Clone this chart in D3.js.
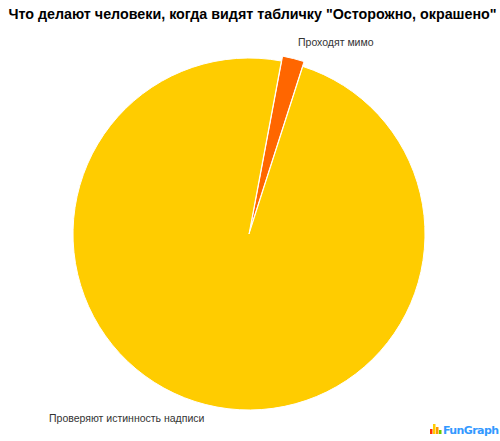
<!DOCTYPE html>
<html>
<head>
<meta charset="utf-8">
<script src="https://cdn.jsdelivr.net/npm/d3@7"></script>
<style>
  body { margin: 0; background: #fff; }
  svg { display: block; }
</style>
</head>
<body>
<script>
// chart data
const title = 'Что делают человеки, когда видят табличку "Осторожно, окрашено"';
const categories = ['Проходят мимо', 'Проверяют истинность надписи'];
const values = [2, 98];
const colors = ['#ff6600', '#ffcc00'];
const exploded = [true, false];

const width = 500, height = 441;
const cx = 249, cy = 234, radius = 176;
const startAngle = 10.6 * Math.PI / 180;

const svg = d3.select('body').append('svg')
  .attr('width', width)
  .attr('height', height);

svg.append('text')
  .attr('x', 252.5)
  .attr('y', 19)
  .attr('text-anchor', 'middle')
  .style('font-family', '"Liberation Sans", Arial, sans-serif')
  .style('font-weight', 'bold')
  .style('font-size', '14.3px')
  .attr('fill', '#000')
  .text(title);

let pie = d3.pie()
  .sort(null)
  .startAngle(startAngle)
  .endAngle(startAngle + 2 * Math.PI)
  .value((d) => d);
let arcs = pie(values);
let arc = d3.arc().innerRadius(0).outerRadius(radius);

let g = svg.append('g').attr('transform', 'translate(' + cx + ',' + cy + ')');

g.selectAll('path')
  .data(arcs)
  .join('path')
  .attr('d', arc)
  .attr('fill', (d, i) => colors[i])
  .attr('stroke', '#fff')
  .attr('stroke-width', 1)
  .attr('transform', (d, i) => {
    if (!exploded[i]) return null;
    let mid = (d.startAngle + d.endAngle) / 2;
    let off = 5;
    return 'translate(' + (off * Math.sin(mid)) + ',' + (-off * Math.cos(mid)) + ')';
  });

//LABELS
let labelPos = [[298, 46, 'start'], [49, 422, 'start']];
svg.selectAll('text.label')
  .data(categories)
  .join('text')
  .attr('class', 'label')
  .attr('x', (d, i) => labelPos[i][0])
  .attr('y', (d, i) => labelPos[i][1])
  .attr('text-anchor', (d, i) => labelPos[i][2])
  .style('font-family', '"Liberation Sans", Arial, sans-serif')
  .style('font-size', '10.5px')
  .attr('fill', '#333')
  .text((d) => d);

//LOGO
let logo = svg.append('g').attr('transform', 'translate(430,434)');
let logoBars = [[0, 5, '#ff3300'], [3, 10, '#ffcc00'], [6, 7, '#ff9900'], [9, 4, '#66cc00']];
logo.selectAll('rect')
  .data(logoBars)
  .join('rect')
  .attr('x', (d) => d[0])
  .attr('y', (d) => -d[1])
  .attr('width', 2.5)
  .attr('height', (d) => d[1])
  .attr('fill', (d) => d[2]);
logo.append('text')
  .attr('x', 13)
  .attr('y', 0)
  .style('font-family', '"DejaVu Sans", sans-serif')
  .style('font-weight', 'bold')
  .style('font-size', '11px')
  .style('letter-spacing', '-0.6px')
  .attr('fill', '#3399ff')
  .text('FunGraph');
</script>
</body>
</html>
